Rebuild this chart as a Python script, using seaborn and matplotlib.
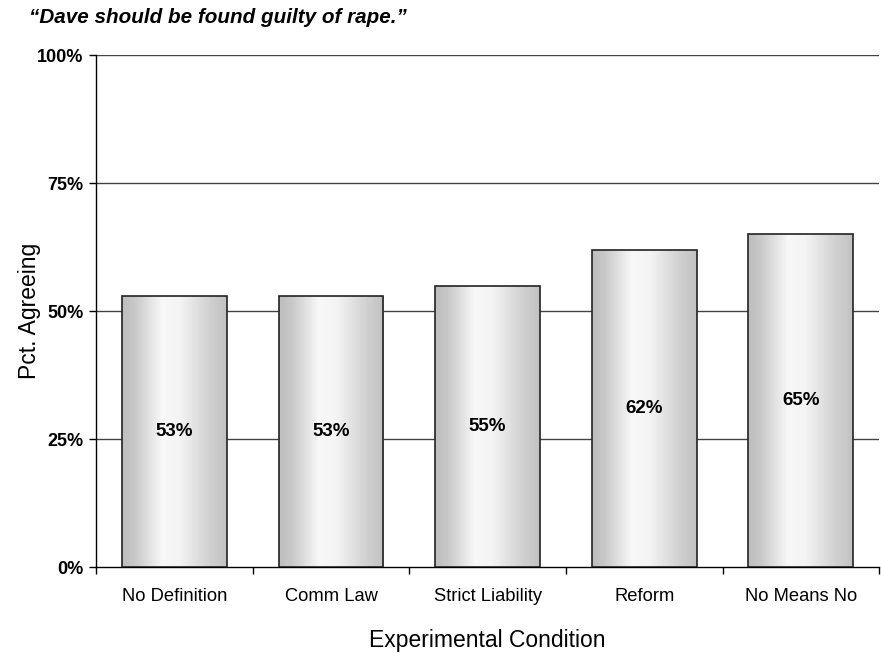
import numpy as np
import pandas as pd
import matplotlib
matplotlib.use("Agg")
import matplotlib.pyplot as plt
import seaborn as sns
from matplotlib.colors import LinearSegmentedColormap

conditions = ["No Definition", "Comm Law", "Strict Liability", "Reform", "No Means No"]
pct_agreeing = [53, 53, 55, 62, 65]
y_ticks = [0, 25, 50, 75, 100]
y_tick_labels = ["0%", "25%", "50%", "75%", "100%"]

sns.set_theme(style="white")
plt.rcParams["font.family"] = ["Liberation Sans", "DejaVu Sans"]
plt.rcParams["text.color"] = "black"
plt.rcParams["axes.labelcolor"] = "black"
plt.rcParams["xtick.color"] = "black"
plt.rcParams["ytick.color"] = "black"

df = pd.DataFrame({"condition": conditions, "pct": pct_agreeing})

fig = plt.figure(figsize=(8.81, 6.58), dpi=100)
ax = fig.add_axes([0.109, 0.138, 0.889, 0.778])

sns.barplot(data=df, x="condition", y="pct", ax=ax, width=0.67,
            color="white", edgecolor="#222222", linewidth=1.2, zorder=3)

# Cylinder-style horizontal shading inside each bar
shade = LinearSegmentedColormap.from_list(
    "shade",
    [(0.0, "#bdbdbd"), (0.12, "#c8c8c8"), (0.38, "#f8f8f8"),
     (0.55, "#f4f4f4"), (0.85, "#cfcfcf"), (1.0, "#c2c2c2")])
grad = np.linspace(0, 1, 256).reshape(1, -1)
for patch in ax.patches:
    x0, y0 = patch.get_x(), patch.get_y()
    w, h = patch.get_width(), patch.get_height()
    img = ax.imshow(grad, cmap=shade, aspect="auto",
                    extent=[x0, x0 + w, y0, y0 + h], zorder=3.5,
                    interpolation="bicubic")
    img.set_clip_path(patch)
    patch.set_facecolor("none")
    patch.set_zorder(4)

for patch, v in zip(ax.patches, pct_agreeing):
    cx = patch.get_x() + patch.get_width() / 2
    ax.text(cx, v / 2, f"{v}%", ha="center", va="center",
            fontsize=13.5, fontweight="bold", color="black", zorder=5)

ax.set_xlim(-0.5, len(conditions) - 0.5)
ax.set_ylim(0, 100)
ax.set_yticks(y_ticks)
ax.set_yticklabels(y_tick_labels, fontsize=13, fontweight="bold")
for y in y_ticks[1:]:
    ax.axhline(y, color="#444444", linewidth=1.0, zorder=1)

ax.set_xticks(range(len(conditions)))
ax.set_xticklabels(conditions, fontsize=13.2)
ax.set_xticks(np.arange(-0.5, len(conditions)), minor=True)
ax.tick_params(axis="x", which="major", length=0, pad=15)
ax.tick_params(axis="x", which="minor", length=5, width=1, color="black",
               direction="out", bottom=True)
ax.tick_params(axis="y", length=5, width=1, color="black", direction="out",
               left=True, pad=4)

for side in ["top", "right"]:
    ax.spines[side].set_visible(False)
for side in ["left", "bottom"]:
    ax.spines[side].set_color("black")
    ax.spines[side].set_linewidth(1.0)

ax.set_xlabel("Experimental Condition", fontsize=16.5, labelpad=17)
ax.set_ylabel("Pct. Agreeing", fontsize=16.5, labelpad=-3)

fig.text(0.033, 0.974, "\u201cDave should be found guilty of rape.\u201d",
         fontsize=14.9, fontweight="bold", fontstyle="italic", va="center")

fig.savefig("out.png", dpi=100)
